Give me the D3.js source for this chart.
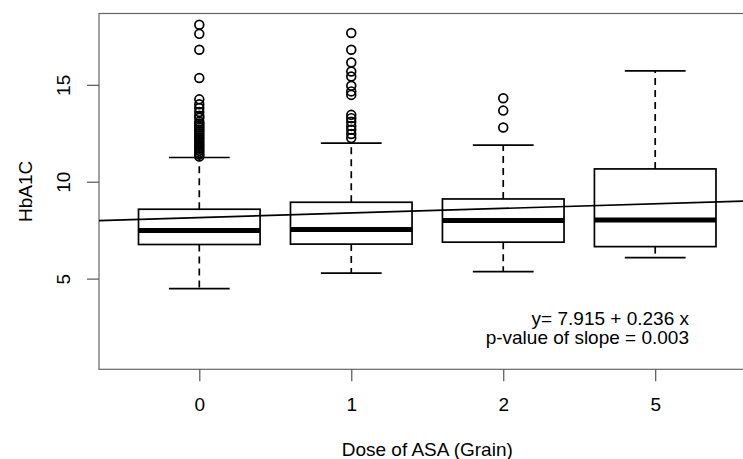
<!DOCTYPE html>
<html>
<head>
<meta charset="utf-8">
<script src="https://cdn.jsdelivr.net/npm/d3@7"></script>
<style>
  html, body { margin: 0; padding: 0; background: #fff; }
  svg { display: block; }
  text { font-family: "Liberation Sans", Arial, sans-serif; fill: #000; }
</style>
</head>
<body>
<svg id="chart" width="743" height="459"></svg>
<script>
// ---- data ----
const categories = ["0", "1", "2", "5"];
const whiskerLow  = [4.48, 5.28, 5.36, 6.08];
const q1          = [6.76, 6.78, 6.88, 6.65];
const median      = [7.48, 7.53, 8.00, 8.03];
const q3          = [8.58, 8.94, 9.11, 10.66];
const whiskerHigh = [11.25, 11.99, 11.89, 15.72];
const outliers0 = [18.10, 17.63, 16.81, 15.35, 14.25, 14.0, 13.8, 13.6, 13.4, 13.3, 13.1, 13.0, 12.9,
                   12.8, 12.7, 12.6, 12.5, 12.4, 12.3, 12.2, 12.1, 12.0, 11.9, 11.8, 11.7, 11.6, 11.5, 11.4, 11.3];
const outliers1 = [17.67, 16.81, 16.15, 15.69, 15.43, 14.95, 14.66, 14.48,
                   13.45, 13.28, 13.10, 12.88, 12.68, 12.46, 12.25];
const outliers2 = [14.31, 13.67, 12.80];
const outliers5 = [];
const outliers = [outliers0, outliers1, outliers2, outliers5];
const yTicks = [5, 10, 15];
const intercept = 7.915, slope = 0.236;
const eqLines = ["y= 7.915 + 0.236 x", "p-value of slope = 0.003"];
const xTitle = "Dose of ASA (Grain)";
const yTitle = "HbA1C";

// ---- layout ----
const svg = d3.select("#chart");
const plot = { left: 99, right: 755.5, top: 13.5, bottom: 369.3 };
const xDom = [0.34, 4.66];
const yDom = [0.32, 18.68];
const x = d3.scaleLinear().domain(xDom).range([plot.left, plot.right]);
const y = d3.scaleLinear().domain(yDom).range([plot.bottom, plot.top]);
const boxHalf = 0.4, capHalf = 0.2;
const lw = 1.7;
const fs = "19px";

// frame
svg.append("rect")
  .attr("x", plot.left).attr("y", plot.top)
  .attr("width", plot.right - plot.left).attr("height", plot.bottom - plot.top)
  .attr("fill", "none").attr("stroke", "#666").attr("stroke-width", 1.2);

// axes
const xAxis = d3.axisBottom(x)
  .tickValues(categories.map((c, i) => i + 1))
  .tickFormat((d, i) => categories[i])
  .tickSize(12).tickPadding(16);
const gx = svg.append("g").attr("transform", `translate(0,${plot.bottom})`).call(xAxis);
gx.select(".domain").remove();
gx.selectAll("line").attr("stroke", "#555").attr("stroke-width", 1.2);
gx.selectAll("text").style("font-size", fs).attr("font-family", "Liberation Sans, Arial, sans-serif");

const yAxis = d3.axisLeft(y).tickValues(yTicks).tickSize(12).tickPadding(0).tickFormat(d3.format("d"));
const gy = svg.append("g").attr("transform", `translate(${plot.left},0)`).call(yAxis);
gy.select(".domain").remove();
gy.selectAll("line").attr("stroke", "#555").attr("stroke-width", 1.2);
gy.selectAll("text")
  .style("font-size", fs)
  .attr("font-family", "Liberation Sans, Arial, sans-serif")
  .attr("x", null).attr("dy", null)
  .attr("text-anchor", "middle")
  .attr("transform", "translate(-29,0) rotate(-90)");

// regression line
svg.append("line")
  .attr("x1", x(xDom[0])).attr("y1", y(intercept + slope * xDom[0]))
  .attr("x2", x(xDom[1])).attr("y2", y(intercept + slope * xDom[1]))
  .attr("stroke", "#000").attr("stroke-width", 1.7);

// boxes
categories.forEach((c, i) => {
  const p = i + 1;
  const g = svg.append("g");
  g.append("line").attr("x1", x(p)).attr("x2", x(p))
    .attr("y1", y(q3[i])).attr("y2", y(whiskerHigh[i]))
    .attr("stroke", "#000").attr("stroke-width", lw).attr("stroke-dasharray", "7,5");
  g.append("line").attr("x1", x(p)).attr("x2", x(p))
    .attr("y1", y(q1[i])).attr("y2", y(whiskerLow[i]))
    .attr("stroke", "#000").attr("stroke-width", lw).attr("stroke-dasharray", "7,5");
  [whiskerHigh[i], whiskerLow[i]].forEach(v => {
    g.append("line").attr("x1", x(p - capHalf)).attr("x2", x(p + capHalf))
      .attr("y1", y(v)).attr("y2", y(v))
      .attr("stroke", "#000").attr("stroke-width", lw);
  });
  g.append("rect")
    .attr("x", x(p - boxHalf)).attr("width", x(p + boxHalf) - x(p - boxHalf))
    .attr("y", y(q3[i])).attr("height", y(q1[i]) - y(q3[i]))
    .attr("fill", "none").attr("stroke", "#000").attr("stroke-width", lw);
  g.append("line").attr("x1", x(p - boxHalf)).attr("x2", x(p + boxHalf))
    .attr("y1", y(median[i])).attr("y2", y(median[i]))
    .attr("stroke", "#000").attr("stroke-width", 5);
  g.selectAll("circle").data(outliers[i]).enter().append("circle")
    .attr("cx", x(p)).attr("cy", d => y(d)).attr("r", 4.4)
    .attr("fill", "none").attr("stroke", "#000").attr("stroke-width", 1.7);
});

// equation text
svg.append("text").attr("x", 689).attr("y", 325).attr("text-anchor", "end")
  .style("font-size", fs).text(eqLines[0]);
svg.append("text").attr("x", 689).attr("y", 344).attr("text-anchor", "end")
  .style("font-size", fs).text(eqLines[1]);

// axis titles
svg.append("text").attr("x", (plot.left + plot.right) / 2).attr("y", 455.5)
  .attr("text-anchor", "middle").style("font-size", fs).text(xTitle);
svg.append("text").attr("transform", `translate(31.5,${(plot.top + plot.bottom) / 2}) rotate(-90)`)
  .attr("text-anchor", "middle").style("font-size", fs).text(yTitle);
</script>
</body>
</html>
